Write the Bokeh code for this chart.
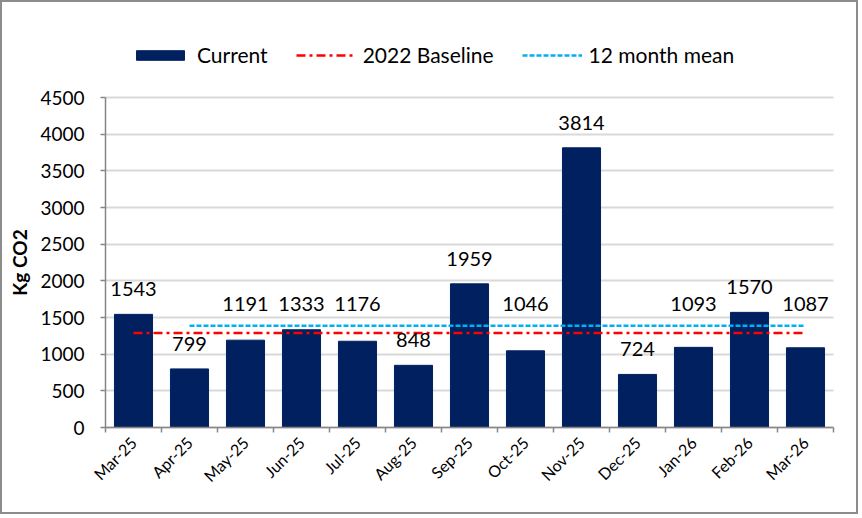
import numpy as np
from math import pi
from bokeh.plotting import figure
from bokeh.models import (ColumnDataSource, Legend, LegendItem, Range1d, SingleIntervalTicker,
                          FixedTicker, LinearAxis, Grid)
from bokeh.core.properties import value
from bokeh.embed import file_html
from bokeh.resources import INLINE

months = ["Mar-25", "Apr-25", "May-25", "Jun-25", "Jul-25", "Aug-25", "Sep-25",
          "Oct-25", "Nov-25", "Dec-25", "Jan-26", "Feb-26", "Mar-26"]
current = [1543, 799, 1191, 1333, 1176, 848, 1959, 1046, 3814, 724, 1093, 1570, 1087]
baseline_2022 = [1290, 1290, 1290, 1290, 1290, 1290, 1290, 1290, 1290, 1290, 1290, 1290, 1290]
mean_months = ["Apr-25", "May-25", "Jun-25", "Jul-25", "Aug-25", "Sep-25",
               "Oct-25", "Nov-25", "Dec-25", "Jan-26", "Feb-26", "Mar-26"]
mean_12 = [1387, 1387, 1387, 1387, 1387, 1387, 1387, 1387, 1387, 1387, 1387, 1387]

FONT = "Lato"
NAVY = "#002060"
AXIS_GREY = "#868686"
Y_MAX = 4500

# canvas geometry
W, H = 858, 514
FRAME_TOP = 30
AX_LEFT, AX_RIGHT = 103, 831   # canvas px of the category axis ends
AX_TOP, AX_BOT = 95, 425       # canvas px of 4500 and 0
n = len(months)
xppu = (AX_RIGHT - AX_LEFT) / n
yppu = (AX_BOT - AX_TOP) / Y_MAX
x_start = -0.5 - AX_LEFT / xppu
x_end = n - 0.5 + (W - AX_RIGHT) / xppu
y_start = -(H - AX_BOT) / yppu
y_end = Y_MAX + (AX_TOP - FRAME_TOP) / yppu

xi = np.arange(n)
mean_x = [months.index(m) for m in mean_months]

cur = np.array(current, dtype=float)
# labels of bars that sit in the band of the reference lines are lifted above them
label_y = np.where((cur > 1000) & (cur < 1400), 1350.0, cur)

src = ColumnDataSource(dict(x=xi, v=current, ly=label_y, txt=[str(v) for v in current]))

p = figure(x_range=Range1d(x_start, x_end), y_range=Range1d(y_start, y_end),
           width=W, height=H, output_backend="svg", toolbar_location=None,
           x_axis_location=None, y_axis_location=None,
           min_border_left=0, min_border_right=0, min_border_top=FRAME_TOP,
           min_border_bottom=0)
p.styles = {"border": "2px solid #8c8c8c"}
p.outline_line_color = None
p.background_fill_color = "white"
p.border_fill_color = "white"
p.xgrid.grid_line_color = None
p.ygrid.grid_line_color = None

# horizontal grid lines
g = Grid(dimension=1, ticker=SingleIntervalTicker(interval=500), bounds=(0, Y_MAX),
         cross_bounds=(-0.5, n - 0.5), grid_line_color="#d9d9d9", grid_line_width=2)
p.add_layout(g, "center")

# y axis
yax = LinearAxis(fixed_location=-0.5, bounds=(0, Y_MAX),
                 ticker=SingleIntervalTicker(interval=500))
yax.axis_line_color = AXIS_GREY
yax.axis_line_width = 1.5
yax.major_tick_line_color = AXIS_GREY
yax.major_tick_line_width = 1.5
yax.major_tick_out = 5
yax.major_tick_in = 0
yax.minor_tick_line_color = None
yax.major_label_text_font = FONT
yax.major_label_text_font_size = "19px"
yax.major_label_text_color = "#000000"
yax.major_label_standoff = 16
yax.axis_label = "Kg CO2"
yax.axis_label_text_font = FONT
yax.axis_label_text_font_size = "19px"
yax.axis_label_text_font_style = "bold"
yax.axis_label_text_color = "#000000"
yax.axis_label_standoff = 6
p.add_layout(yax, "left")

# x axis: boundary ticks
xtick_ax = LinearAxis(fixed_location=0, bounds=(-0.5, n - 0.5),
                      ticker=FixedTicker(ticks=list(xi - 0.5) + [n - 0.5]))
xtick_ax.axis_line_color = AXIS_GREY
xtick_ax.axis_line_width = 1.5
xtick_ax.major_tick_line_color = AXIS_GREY
xtick_ax.major_tick_line_width = 1.5
xtick_ax.major_tick_out = 5
xtick_ax.major_tick_in = 0
xtick_ax.minor_tick_line_color = None
xtick_ax.major_label_text_color = None
p.add_layout(xtick_ax, "below")

# x axis: month labels
xlab_ax = LinearAxis(fixed_location=0, ticker=FixedTicker(ticks=list(xi)))
xlab_ax.major_label_overrides = {int(i): m for i, m in zip(xi, months)}
xlab_ax.axis_line_color = None
xlab_ax.major_tick_line_color = None
xlab_ax.minor_tick_line_color = None
xlab_ax.major_label_orientation = pi / 4
xlab_ax.major_label_text_font = FONT
xlab_ax.major_label_text_font_size = "16px"
xlab_ax.major_label_text_color = "#000000"
xlab_ax.major_label_standoff = 6
p.add_layout(xlab_ax, "below")

bars = p.vbar(x="x", top="v", width=0.68, source=src, fill_color=NAVY, line_color=NAVY)
base = p.line(xi, baseline_2022, line_color="#FF0000", line_width=2.5, line_dash="9 4 3 4")
mean = p.line(mean_x, mean_12, line_color="#00B0F0", line_width=2.5, line_dash="5 2")

p.text(x="x", y="ly", text="txt", source=src, text_align="center", text_baseline="bottom",
       y_offset=-18, text_font=value(FONT), text_font_size="20px", text_color="#000000")

legend = Legend(items=[LegendItem(label="Current", renderers=[bars]),
                       LegendItem(label="2022 Baseline", renderers=[base]),
                       LegendItem(label="12 month mean", renderers=[mean])],
                orientation="horizontal", location=(128, H - 65))
legend.padding = 0
legend.margin = 0
legend.spacing = 28
legend.glyph_width = 60
legend.glyph_height = 12
legend.label_standoff = 7
legend.label_text_font = FONT
legend.label_text_font_size = "21px"
legend.label_text_color = "#000000"
legend.border_line_color = None
legend.background_fill_alpha = 0
p.add_layout(legend, "center")

open("out.html", "w").write(file_html(p, INLINE))
